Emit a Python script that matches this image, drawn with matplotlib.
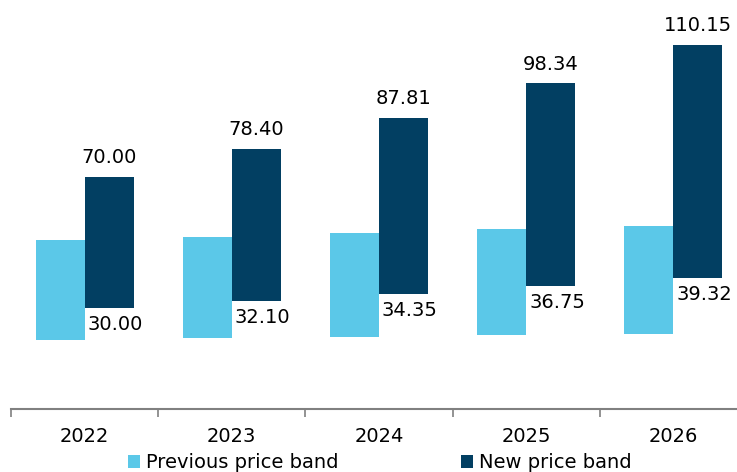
import matplotlib
matplotlib.use("Agg")
import matplotlib.pyplot as plt
import numpy as np

years = ["2022", "2023", "2024", "2025", "2026"]
prev_low = [20.4, 20.9, 21.3, 21.8, 22.2]
prev_high = [50.8, 51.8, 52.9, 54.0, 55.0]
new_low = [30.00, 32.10, 34.35, 36.75, 39.32]
new_high = [70.00, 78.40, 87.81, 98.34, 110.15]

light = "#5BC8E8"
dark = "#023F62"

W, H = 737, 472
fig = plt.figure(figsize=(W / 100, H / 100), dpi=100)
ax = fig.add_axes([11 / W, 1 - 408.5 / H, (737 - 11) / W, 408.5 / H])

x = np.arange(len(years))
bw = 1 / 3
prev_h = np.array(prev_high) - np.array(prev_low)
new_h = np.array(new_high) - np.array(new_low)
ax.bar(x - bw / 2, prev_h, bottom=prev_low, width=bw, color=light,
       label="Previous price band", linewidth=0)
ax.bar(x + bw / 2, new_h, bottom=new_low, width=bw, color=dark,
       label="New price band", linewidth=0)

fs = 14
for xi, lo, hi in zip(x, new_low, new_high):
    ax.annotate(f"{hi:.2f}", (xi + bw / 2, hi), xytext=(0, 7), textcoords="offset points",
                ha="center", va="bottom", fontsize=fs, color="black")
    ax.annotate(f"{lo:.2f}", (xi + bw / 2, lo), xytext=(4.5, -5), textcoords="offset points",
                ha="center", va="top", fontsize=fs, color="black")

for s in ["top", "right", "left"]:
    ax.spines[s].set_visible(False)
ax.spines["bottom"].set_color("#808080")
ax.spines["bottom"].set_linewidth(1.5)
ax.set_yticks([])
ax.set_xticks(np.arange(-0.5, 4.0, 1.0))
ax.set_xticklabels([])
ax.tick_params(axis="x", which="major", length=6, color="#808080", width=1.2, direction="out")
ax.set_xticks(x, minor=True)
ax.set_xticklabels(years, minor=True, fontsize=fs)
ax.tick_params(axis="x", which="minor", length=0, pad=13)

ax.set_xlim(-0.5, -0.5 + (737 - 11) / 147.2)
ax.set_ylim(-0.45, 407 / 3.29)

fig.legend(loc="center", bbox_to_anchor=(380 / W, 1 - 463 / H), ncol=2, frameon=False,
           fontsize=fs, handlelength=0.62, handleheight=0.62, handletextpad=0.3,
           columnspacing=6.3, borderpad=0)

fig.savefig("out.png", dpi=100)
